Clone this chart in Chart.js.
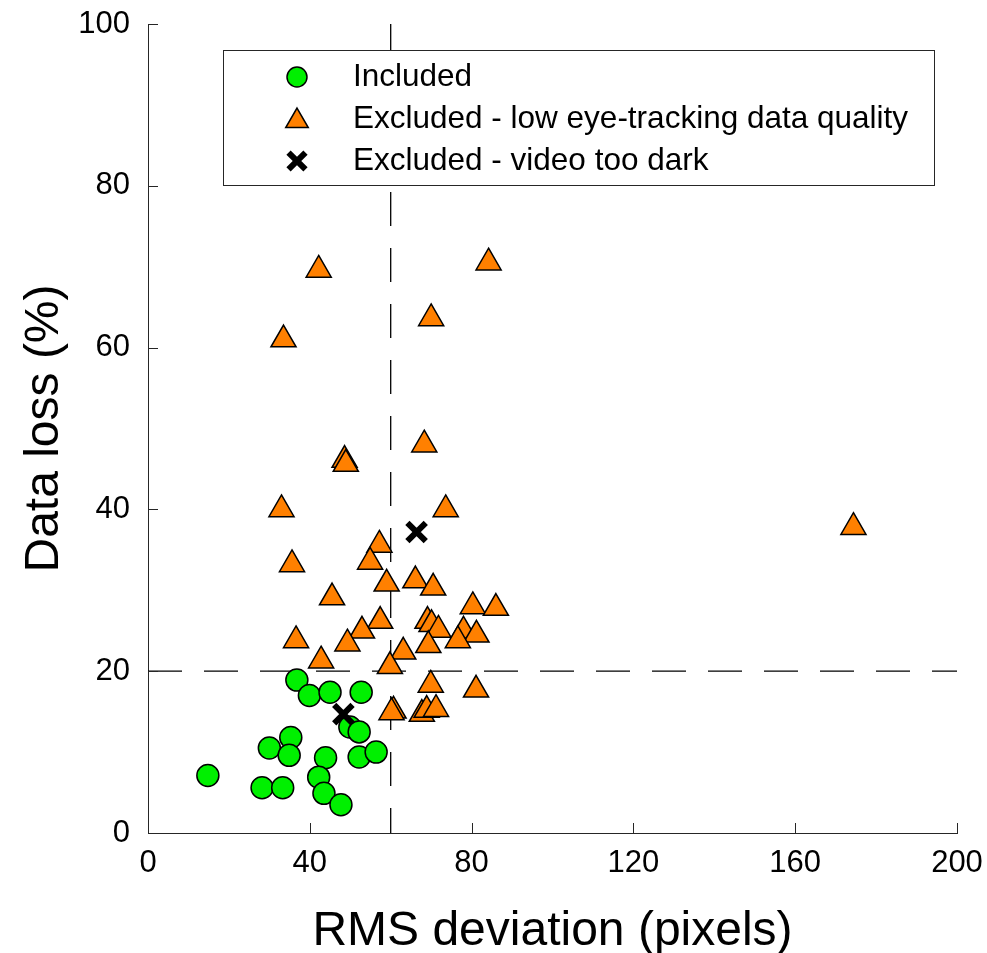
<!DOCTYPE html>
<html>
<head>
<meta charset="utf-8">
<title>Data loss vs RMS deviation</title>
<script src="https://cdn.jsdelivr.net/npm/chart.js@4.4.1/dist/chart.umd.min.js"></script>
<style>
  body { margin: 0; background: #fff; }
  canvas { display: block; }
</style>
</head>
<body>
<canvas id="scatterChart" width="987" height="953"></canvas>
<script>
// values
const includedX = [36.8, 39.9, 45.0, 52.7, 49.9, 52.2, 35.3, 30.0, 34.9, 43.9, 52.2, 56.4, 14.8, 42.2, 28.2, 33.3, 43.5, 47.7];
const includedY = [18.9, 17.0, 17.4, 17.4, 13.1, 12.5, 11.8, 10.5, 9.6, 9.3, 9.4, 10.0, 7.1, 6.9, 5.6, 5.6, 4.9, 3.5];

const lowQualityX = [42.2, 84.2, 70.0, 33.5, 68.3, 48.6, 48.9, 33.0, 73.6, 57.2, 54.9, 35.6, 59.0, 66.1, 70.5, 45.5, 80.3, 86.0, 57.4, 69.1,
                     70.1, 71.8, 78.0, 81.2, 76.6, 69.3, 63.1, 59.8, 69.9, 81.1, 60.7, 60.2, 67.7, 68.9, 71.2, 52.9, 49.3, 36.6, 42.8, 174.4];
const lowQualityY = [69.6, 70.5, 63.6, 61.0, 48.0, 46.1, 45.6, 40.0, 40.0, 35.6, 33.5, 33.2, 30.8, 31.2, 30.3, 29.1, 28.0, 27.8, 26.2, 26.2,
                     25.8, 25.1, 25.0, 24.5, 23.8, 23.2, 22.4, 20.6, 18.3, 17.7, 15.1, 14.9, 14.7, 15.2, 15.3, 25.0, 23.4, 23.8, 21.3, 37.8];

const darkX = [48.3, 66.4];
const darkY = [14.7, 37.2];

// cut-off lines
const rmsCutoff = 60;
const lossCutoff = 20;

const xTicks = [0, 40, 80, 120, 160, 200];
const yTicks = [0, 20, 40, 60, 80, 100];

const seriesLabels = ['Included', 'Excluded - low eye-tracking data quality', 'Excluded - video too dark'];

const FONT = "'Liberation Sans', Arial, Helvetica, sans-serif";

function toPoints(xs, ys) {
    return xs.map((x, i) => ({ x: x, y: ys[i] }));
}

// MATLAB style ticks pointing into the plot
const inwardTicks = {
    id: 'inwardTicks',
    afterDraw(chart) {
        const ctx = chart.ctx;
        const xs = chart.scales.x;
        const ys = chart.scales.y;
        ctx.save();
        ctx.strokeStyle = '#262626';
        ctx.lineWidth = 1;
        ctx.beginPath();
        xTicks.forEach(v => {
            const px = Math.round(xs.getPixelForValue(v)) + 0.5;
            ctx.moveTo(px, ys.bottom);
            ctx.lineTo(px, ys.bottom - 10);
        });
        yTicks.forEach(v => {
            const py = Math.round(ys.getPixelForValue(v)) + 0.5;
            ctx.moveTo(xs.left, py);
            ctx.lineTo(xs.left + 10, py);
        });
        ctx.stroke();
        ctx.restore();
    }
};

// legend box inside the axes, upper part
const boxLegend = {
    id: 'boxLegend',
    afterDraw(chart) {
        const ctx = chart.ctx;
        const left = 223.5, top = 50.5, w = 711, h = 135;
        ctx.save();
        ctx.fillStyle = '#fff';
        ctx.strokeStyle = '#262626';
        ctx.lineWidth = 1;
        ctx.fillRect(left, top, w, h);
        ctx.strokeRect(left, top, w, h);

        const rows = [77, 119, 161];
        // datasets 0..2 are the three marker series
        [2, 1, 0].forEach((di, row) => {
            const ds = chart.data.datasets[di];
            ctx.fillStyle = ds.backgroundColor;
            ctx.strokeStyle = ds.borderColor;
            ctx.lineWidth = ds.borderWidth;
            const y = ds.pointStyle === 'triangle' ? rows[row] + 2 : rows[row];
            Chart.helpers.drawPoint(ctx, {
                pointStyle: ds.pointStyle,
                radius: ds.legendRadius,
                rotation: 0,
                borderWidth: ds.borderWidth
            }, 297, y);
            ctx.fillStyle = '#000';
            ctx.font = '31.5px ' + FONT;
            ctx.textAlign = 'left';
            ctx.textBaseline = 'middle';
            ctx.fillText(ds.label, 353, rows[row]);
        });
        ctx.restore();
    }
};

new Chart(document.getElementById('scatterChart'), {
    type: 'scatter',
    data: {
        datasets: [
            {
                label: seriesLabels[2],
                data: toPoints(darkX, darkY),
                pointStyle: 'crossRot',
                pointRadius: 13,
                legendRadius: 12,
                backgroundColor: '#000',
                borderColor: '#000',
                borderWidth: 6,
                order: 0
            },
            {
                label: seriesLabels[1],
                data: toPoints(lowQualityX, lowQualityY),
                pointStyle: 'triangle',
                pointRadius: 14.5,
                legendRadius: 13,
                backgroundColor: '#ff8000',
                borderColor: '#000',
                borderWidth: 1.5,
                order: 1
            },
            {
                label: seriesLabels[0],
                data: toPoints(includedX, includedY),
                pointStyle: 'circle',
                pointRadius: 11,
                legendRadius: 10,
                backgroundColor: '#00f000',
                borderColor: '#000',
                borderWidth: 1.5,
                order: 2
            },
            {
                label: 'rms cutoff',
                type: 'line',
                data: [{ x: rmsCutoff, y: 100 }, { x: rmsCutoff, y: 0 }],
                borderColor: '#000',
                borderWidth: 1.3,
                borderDash: [34, 22],
                pointRadius: 0,
                order: 3
            },
            {
                label: 'loss cutoff',
                type: 'line',
                data: [{ x: 0, y: lossCutoff }, { x: 200, y: lossCutoff }],
                borderColor: '#000',
                borderWidth: 1.3,
                borderDash: [34, 22],
                pointRadius: 0,
                order: 3
            }
        ]
    },
    options: {
        responsive: false,
        animation: false,
        layout: { padding: { top: 24, right: 30, left: 0, bottom: 0 } },
        plugins: {
            legend: { display: false },
            tooltip: { enabled: false }
        },
        scales: {
            x: {
                type: 'linear',
                min: 0,
                max: 200,
                afterBuildTicks: axis => { axis.ticks = xTicks.map(v => ({ value: v })); },
                afterFit: axis => {
                    axis.height = 120;
                    axis.paddingLeft = 0;
                    axis.paddingRight = 0;
                },
                grid: { display: false, drawTicks: false },
                border: { display: true, color: '#262626', width: 1 },
                ticks: { padding: 12, color: '#000', font: { family: FONT, size: 31 }, maxRotation: 0 },
                title: {
                    display: true,
                    text: 'RMS deviation (pixels)',
                    color: '#000',
                    font: { family: FONT, size: 48, lineHeight: 1 },
                    padding: { top: 0, bottom: -3 }
                }
            },
            y: {
                type: 'linear',
                min: 0,
                max: 100,
                afterBuildTicks: axis => { axis.ticks = yTicks.map(v => ({ value: v })); },
                afterFit: axis => {
                    axis.width = 148;
                    axis.paddingTop = 0;
                    axis.paddingBottom = 0;
                },
                grid: { display: false, drawTicks: false },
                border: { display: true, color: '#262626', width: 1 },
                ticks: { padding: 18, color: '#000', font: { family: FONT, size: 31 } },
                title: {
                    display: true,
                    text: 'Data loss (%)',
                    color: '#000',
                    font: { family: FONT, size: 48, lineHeight: 1 },
                    padding: { top: 21, bottom: 0 }
                }
            }
        }
    },
    plugins: [inwardTicks, boxLegend]
});
</script>
</body>
</html>
